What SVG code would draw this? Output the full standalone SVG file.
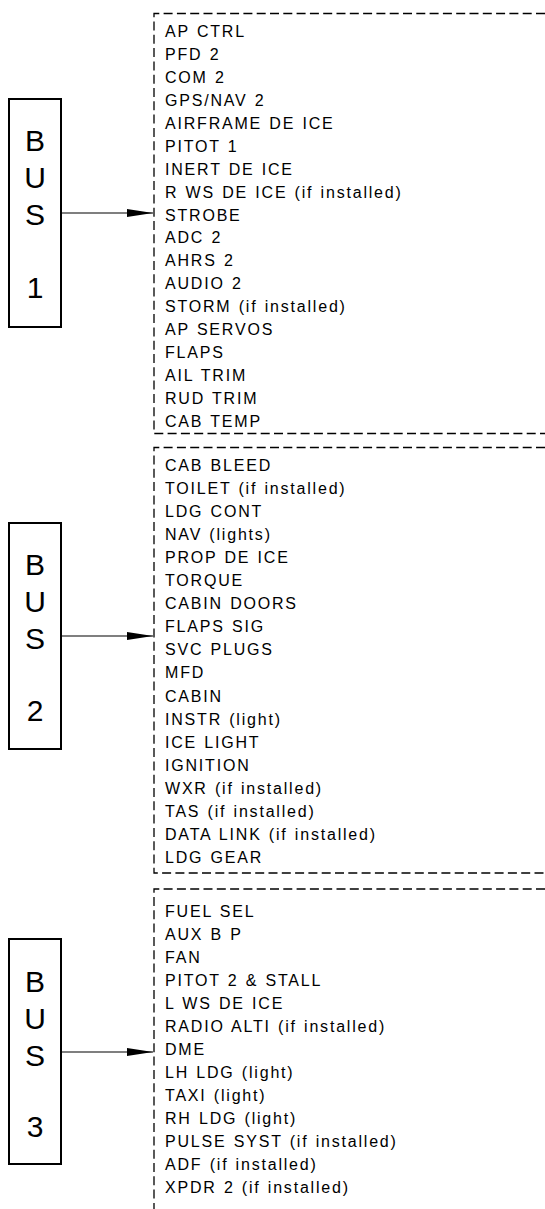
<svg xmlns="http://www.w3.org/2000/svg" width="545" height="1209" viewBox="0 0 545 1209">
<style>
.bg{fill:#fff}
.bus{fill:none;stroke:#000;stroke-width:2}
.bl{font-family:"Liberation Sans",Arial,sans-serif;font-size:30px;fill:#000;text-anchor:middle}
.it{font-family:"Liberation Sans",Arial,sans-serif;font-size:16px;letter-spacing:1.8px;word-spacing:1px;fill:#000}
.dash{fill:none;stroke:#000;stroke-width:1.3;stroke-dasharray:9 4.3}
.conn{stroke:#000;stroke-width:1.2;fill:none}
</style>
<defs>
<marker id="ah" markerWidth="26" markerHeight="10" refX="26" refY="5" orient="auto" markerUnits="userSpaceOnUse">
<path d="M0,1 L26,5 L0,9 Z" fill="#000"/>
</marker>
</defs>
<rect class="bg" x="0" y="0" width="545" height="1209"/>

<g id="list1">
<path class="dash" d="M545,13.5 H154 V433.5 H545"/>
<text class="it" x="165" y="37.3">AP CTRL</text>
<text class="it" x="165" y="60.2">PFD 2</text>
<text class="it" x="165" y="83.1">COM 2</text>
<text class="it" x="165" y="106">GPS/NAV 2</text>
<text class="it" x="165" y="128.9">AIRFRAME DE ICE</text>
<text class="it" x="165" y="151.8">PITOT 1</text>
<text class="it" x="165" y="174.7">INERT DE ICE</text>
<text class="it" x="165" y="197.6">R WS DE ICE (if installed)</text>
<text class="it" x="165" y="220.5">STROBE</text>
<text class="it" x="165" y="243.4">ADC 2</text>
<text class="it" x="165" y="266.3">AHRS 2</text>
<text class="it" x="165" y="289.2">AUDIO 2</text>
<text class="it" x="165" y="312.1">STORM (if installed)</text>
<text class="it" x="165" y="335">AP SERVOS</text>
<text class="it" x="165" y="357.9">FLAPS</text>
<text class="it" x="165" y="380.8">AIL TRIM</text>
<text class="it" x="165" y="403.7">RUD TRIM</text>
<text class="it" x="165" y="426.6">CAB TEMP</text>
</g>

<g id="list2">
<path class="dash" d="M545,447.5 H154 V873 H545"/>
<text class="it" x="165" y="470.5">CAB BLEED</text>
<text class="it" x="165" y="493.6">TOILET (if installed)</text>
<text class="it" x="165" y="516.7">LDG CONT</text>
<text class="it" x="165" y="539.8">NAV (lights)</text>
<text class="it" x="165" y="562.9">PROP DE ICE</text>
<text class="it" x="165" y="586">TORQUE</text>
<text class="it" x="165" y="609.1">CABIN DOORS</text>
<text class="it" x="165" y="632.2">FLAPS SIG</text>
<text class="it" x="165" y="655.3">SVC PLUGS</text>
<text class="it" x="165" y="678.4">MFD</text>
<text class="it" x="165" y="701.5">CABIN</text>
<text class="it" x="165" y="724.6">INSTR (light)</text>
<text class="it" x="165" y="747.7">ICE LIGHT</text>
<text class="it" x="165" y="770.8">IGNITION</text>
<text class="it" x="165" y="793.9">WXR (if installed)</text>
<text class="it" x="165" y="817">TAS (if installed)</text>
<text class="it" x="165" y="840.1">DATA LINK (if installed)</text>
<text class="it" x="165" y="863.2">LDG GEAR</text>
</g>

<g id="list3">
<path class="dash" d="M545,889 H154 V1209"/>
<text class="it" x="165" y="917">FUEL SEL</text>
<text class="it" x="165" y="940">AUX B P</text>
<text class="it" x="165" y="963">FAN</text>
<text class="it" x="165" y="986">PITOT 2 &amp; STALL</text>
<text class="it" x="165" y="1009">L WS DE ICE</text>
<text class="it" x="165" y="1032">RADIO ALTI (if installed)</text>
<text class="it" x="165" y="1055">DME</text>
<text class="it" x="165" y="1078">LH LDG (light)</text>
<text class="it" x="165" y="1101">TAXI (light)</text>
<text class="it" x="165" y="1124">RH LDG (light)</text>
<text class="it" x="165" y="1147">PULSE SYST (if installed)</text>
<text class="it" x="165" y="1170">ADF (if installed)</text>
<text class="it" x="165" y="1193">XPDR 2 (if installed)</text>
</g>

<g id="bus1">
<rect class="bus" x="9" y="99" width="52" height="228"/>
<text class="bl" x="35" y="151">B</text>
<text class="bl" x="35" y="188">U</text>
<text class="bl" x="35" y="225">S</text>
<text class="bl" x="35" y="298">1</text>
</g>
<g id="bus2">
<rect class="bus" x="9" y="523" width="52" height="226"/>
<text class="bl" x="35" y="575">B</text>
<text class="bl" x="35" y="612">U</text>
<text class="bl" x="35" y="649">S</text>
<text class="bl" x="35" y="721">2</text>
</g>
<g id="bus3">
<rect class="bus" x="9" y="939" width="52" height="225"/>
<text class="bl" x="35" y="992">B</text>
<text class="bl" x="35" y="1029">U</text>
<text class="bl" x="35" y="1066">S</text>
<text class="bl" x="35" y="1137">3</text>
</g>

<g id="connectors">
<line class="conn" x1="62" y1="213" x2="153" y2="213" marker-end="url(#ah)"/>
<line class="conn" x1="62" y1="636" x2="153" y2="636" marker-end="url(#ah)"/>
<line class="conn" x1="62" y1="1052" x2="153" y2="1052" marker-end="url(#ah)"/>
</g>
</svg>
